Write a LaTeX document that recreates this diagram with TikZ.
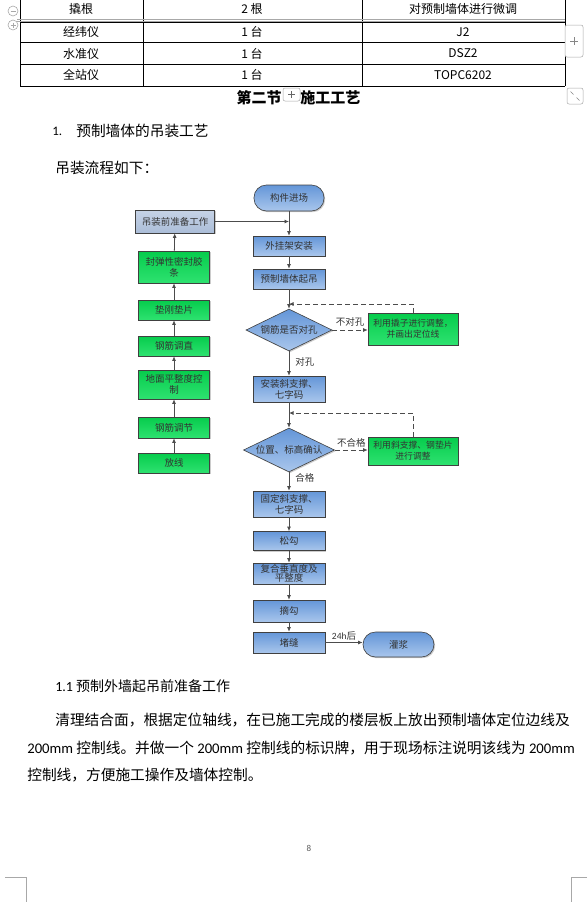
\documentclass[tikz,border=0pt]{standalone}
\usepackage{fontspec}
\setmainfont{Noto Sans CJK SC}
\newfontfamily\latinfont{Carlito}
\usetikzlibrary{arrows.meta,shapes.geometric,shadows}

\definecolor{boxtop}{HTML}{6496D8}
\definecolor{boxbot}{HTML}{A9C6EC}
\definecolor{greentop}{HTML}{06CC4C}
\definecolor{greenbot}{HTML}{2EE270}
\definecolor{greytop}{HTML}{C6D3E6}
\definecolor{greybot}{HTML}{ABBDD8}
\definecolor{uigrey}{HTML}{A8A8A8}

\newcommand\flowfont{\fontsize{9.5}{11}\selectfont}
\newcommand\bodyfont{\fontsize{14.7}{16}\selectfont}
\newcommand\tabfont{\fontsize{12}{14}\selectfont}
\newcommand\lat[1]{{\latinfont #1}}

\tikzset{
  box/.style={draw=black!75, line width=0.6pt, inner sep=1pt, align=center,
    font=\flowfont, text=black!80,
    drop shadow={shadow xshift=1.2pt, shadow yshift=-1.2pt, opacity=0.4}},
  bluebox/.style={box, top color=boxtop, bottom color=boxbot,
    minimum width=72pt, minimum height=20pt},
  greenbox/.style={box, top color=greentop, bottom color=greenbot,
    minimum width=71pt, minimum height=20pt},
  greybox/.style={box, top color=greytop, bottom color=greybot,
    minimum width=79pt, minimum height=23pt},
  termbox/.style={box, top color=boxtop, bottom color=boxbot,
    rounded corners=12.5pt, minimum width=70pt, minimum height=26pt},
  decision/.style={box, diamond, aspect=2, inner sep=0pt,
    top color=boxtop, bottom color=boxbot},
  flow/.style={draw=black!70, line width=0.8pt, -{Latex[length=4.5pt,width=4pt]}},
  dashflow/.style={flow, dash pattern=on 5pt off 3pt},
  lbl/.style={font=\flowfont, text=black!80, inner sep=0pt},
  body/.style={font=\bodyfont, anchor=west, inner sep=0pt},
  cell/.style={font=\tabfont, inner sep=0pt},
  uibtn/.style={draw=uigrey, fill=white, rounded corners=2pt, line width=0.5pt}
}

\begin{document}
\begin{tikzpicture}[x=1pt,y=-1pt,line width=0.6pt]
\useasboundingbox (0,0) rectangle (587,902);

% table at the top of the page
\foreach \x in {20,143,362,565}{
  \draw (\x,0) -- (\x,86);
}
\draw[uigrey] (17,19) -- (565,19);
\draw[uigrey] (17,21) -- (565,21);
\foreach \y in {22.5,42.5,64.5,86}{
  \draw (20,\y) -- (565,\y);
}
\node[cell] (t11) at (81,9) {撬根};
\node[cell] (t12) at (252,9) {2 根};
\node[cell] (t13) at (463,9) {对预制墙体进行微调};
\node[cell] (t21) at (81,32) {经纬仪};
\node[cell] (t22) at (252,32) {1 台};
\node[cell] (t23) at (463,32) {J2};
\node[cell] (t31) at (81,53.5) {水准仪};
\node[cell] (t32) at (252,53.5) {1 台};
\node[cell] (t33) at (463,53.5) {DSZ2};
\node[cell] (t41) at (81,75) {全站仪};
\node[cell] (t42) at (252,75) {1 台};
\node[cell] (t43) at (463,75) {TOPC6202};

% editor handles
\draw[uigrey,fill=white] (13,11) circle (5pt);
\draw[uigrey,line width=1pt] (10.5,11) -- (15.5,11);
\draw[uigrey,fill=white] (13,25) circle (5pt);
\draw[uigrey,line width=1pt] (10.5,25) -- (15.5,25) (13,22.5) -- (13,27.5);
\draw[uibtn] (565,25) rectangle (583,57);
\draw[uigrey!80!black,line width=0.6pt] (570,41) -- (578,41) (574,37) -- (574,45);
\draw[uibtn] (567,88) rectangle (583,104);
\draw[uigrey!80!black,line width=0.5pt] (570.5,91.5) -- (573.5,94.5) (576.5,97.5) -- (579.5,100.5);

% section heading
\node[font=\fontsize{15}{17}\selectfont\bfseries, anchor=east, inner sep=0pt] (sec1) at (282,98) {第二节};
\node[font=\fontsize{15}{17}\selectfont\bfseries, anchor=west, inner sep=0pt] (sec2) at (300,98) {施工工艺};
\draw[uibtn] (283,88) rectangle (300,101);
\draw[black!60,line width=0.6pt] (288,94.5) -- (295,94.5) (291.5,91) -- (291.5,98);

\node[body, font=\fontsize{13}{14}\selectfont\latinfont] (num1) at (52,131) {1.};
\node[body] (head1) at (76,131) {预制墙体的吊装工艺};
\node[body] (intro) at (55,168) {吊装流程如下：};

% main column
\node[termbox] (start) at (289,198) {构件进场};
\node[bluebox] (hang) at (289,246) {外挂架安装};
\node[bluebox] (lift) at (289,279) {预制墙体起吊};
\node[decision, minimum width=86pt, minimum height=42pt] (chk1) at (289,330) {钢筋是否对孔};
\node[greenbox, minimum width=90pt, minimum height=32pt, font=\fontsize{8.8}{11}\selectfont] (fix1) at (413,329) {利用撬子进行调整，\\并画出定位线};
\node[bluebox, minimum height=26pt] (brace) at (289,389) {安装斜支撑、\\七字码};
\node[decision, minimum width=91pt, minimum height=44pt] (chk2) at (289,450) {位置、标高确认};
\node[greenbox, minimum width=90pt, minimum height=28pt, font=\fontsize{8.8}{11}\selectfont] (fix2) at (413,451) {利用斜支撑、钢垫片\\进行调整};
\node[bluebox, minimum height=26pt] (fixb) at (289,504) {固定斜支撑、\\七字码};
\node[bluebox, minimum height=19pt] (loosen) at (289,541) {松勾};
\node[bluebox, minimum height=21pt, inner sep=0pt, font=\fontsize{9.5}{9.5}\selectfont] (recheck) at (289,573.5) {复合垂直度及\\平整度};
\node[bluebox, minimum height=22pt] (unhook) at (289,611) {摘勾};
\node[bluebox, minimum height=21pt] (seal) at (289,642.5) {堵缝};
\node[termbox, minimum width=71pt, minimum height=25pt] (grout) at (398.5,644.5) {灌浆};

% preparation column
\node[greybox] (prep) at (175,221.5) {吊装前准备工作};
\node[greenbox, minimum height=32pt] (glue) at (174,267) {封弹性密封胶\\条};
\node[greenbox] (shim) at (174,310) {垫刚垫片};
\node[greenbox] (straight) at (174,346) {钢筋调直};
\node[greenbox, minimum height=29pt] (level) at (174,384.5) {地面平整度控\\制};
\node[greenbox, minimum height=21pt] (adjust) at (174,427.5) {钢筋调节};
\node[greenbox] (setout) at (174,463) {放线};

\coordinate (join) at (289,221.5);
\coordinate (back1) at (289,304);
\coordinate (back2) at (289,413);

% connectors
\draw[flow] (start) -- (hang);
\draw[flow] (prep.east) -- (join);
\draw[flow] (hang) -- (lift);
\draw[flow] (lift) -- (chk1);
\draw[dashflow] (chk1.east) -- node[lbl, above=3pt] (no1) {不对孔} (fix1.west |- chk1.east);
\draw[dashflow] (fix1.north) |- (back1);
\draw[flow] (chk1.south) -- node[lbl, right=6pt, pos=0.45] (yes1) {对孔} (brace);
\draw[flow] (brace) -- (chk2);
\draw[dashflow] (chk2.east) -- node[lbl, above=2pt] (no2) {不合格} (fix2.west |- chk2.east);
\draw[dashflow] (fix2.north) |- (back2);
\draw[flow] (chk2.south) -- node[lbl, right=6pt, pos=0.3] (yes2) {合格} (fixb);
\draw[flow] (fixb) -- (loosen);
\draw[flow] (loosen) -- (recheck);
\draw[flow] (recheck) -- (unhook);
\draw[flow] (unhook) -- (seal);
\draw[flow] (seal.east) -- node[lbl, above=2pt] (wait) {\lat{24h}后} (seal.east -| grout.west);
\foreach \a/\b in {setout/adjust,adjust/level,level/straight,straight/shim,shim/glue,glue/prep}{
  \draw[flow] (\a) -- (\b);
}

% text below the chart
\node[body, font=\fontsize{14}{15}\selectfont] (head2) at (55,686) {\lat{1.1} 预制外墙起吊前准备工作};
\node[body] (par1) at (55,720) {清理结合面，根据定位轴线，在已施工完成的楼层板上放出预制墙体定位边线及};
\node[body] (par2) at (27,748) {\lat{200mm} 控制线。并做一个 \lat{200mm} 控制线的标识牌，用于现场标注说明该线为 \lat{200mm}};
\node[body] (par3) at (27,775) {控制线，方便施工操作及墙体控制。};

% footer
\node[font=\fontsize{9}{10}\selectfont\latinfont, text=black!65, inner sep=0pt] (page) at (309,848) {8};
\draw[uigrey] (5,877) -- (26,877) -- (26,902);
\draw[uigrey] (587,877) -- (571,877) -- (571,902);
\end{tikzpicture}
\end{document}
